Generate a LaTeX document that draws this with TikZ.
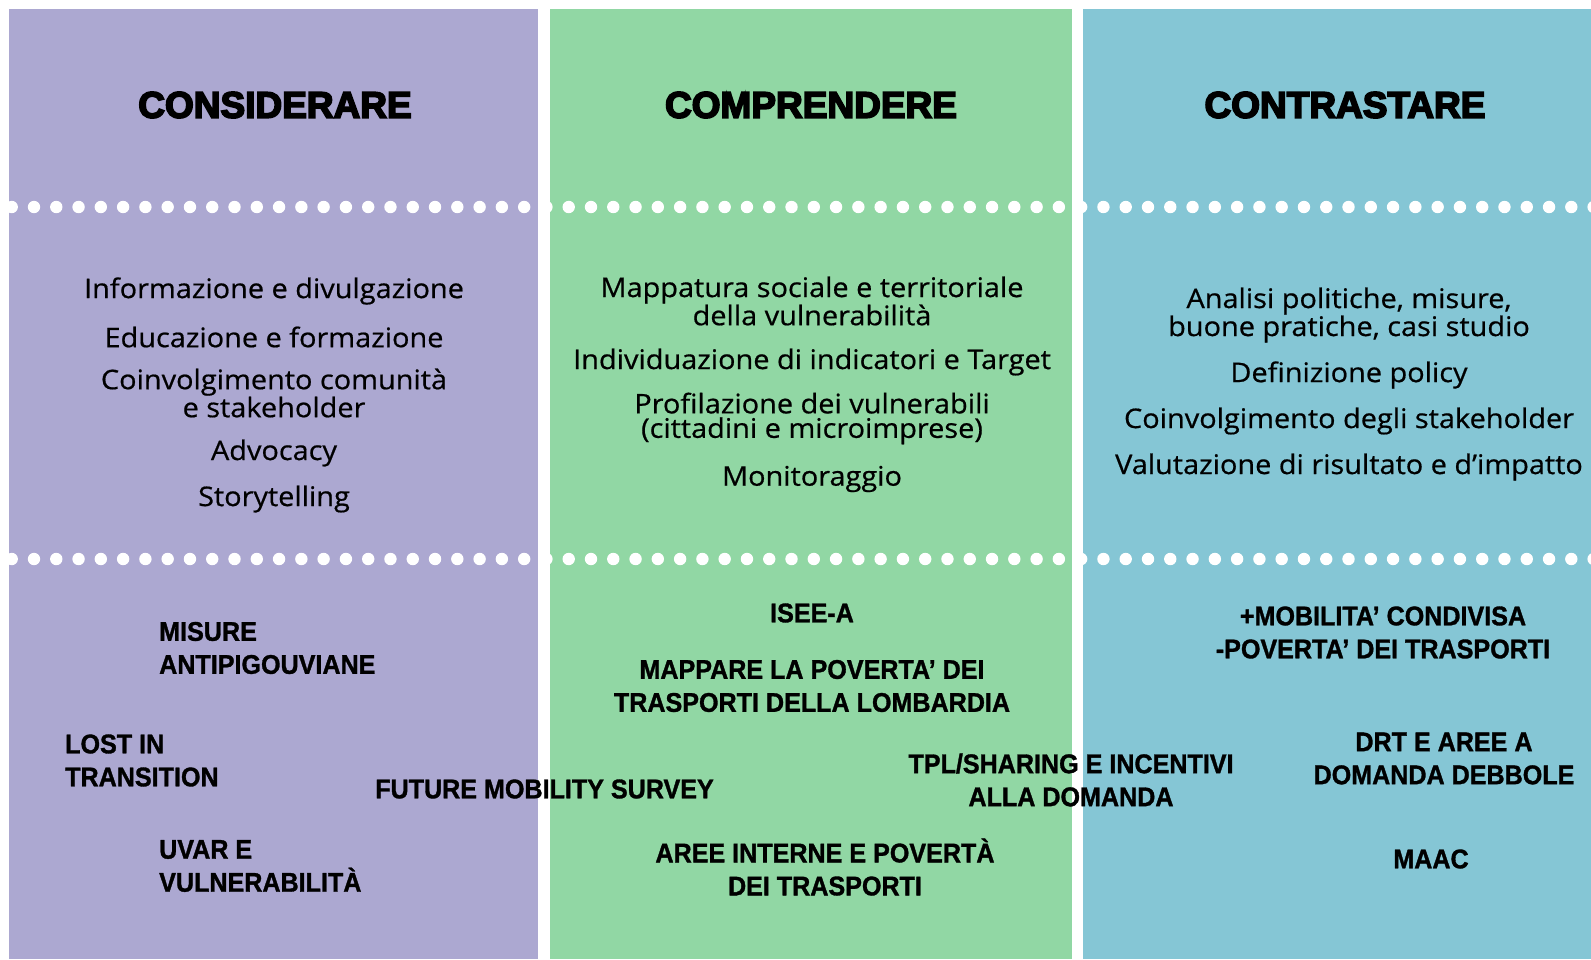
\documentclass[tikz,border=0pt]{standalone}
\usepackage{fontspec}
\setmainfont{Open Sans}[FakeStretch=1.07, FakeBold=0.6]
\newfontfamily\headfont{Liberation Sans}[BoldFeatures={FakeBold=4.5}]
\newfontfamily\tagfont{Liberation Sans}[BoldFeatures={FakeStretch=0.93, FakeBold=1.2}]
\definecolor{colpurple}{HTML}{ACA8D1}
\definecolor{colgreen}{HTML}{91D7A4}
\definecolor{colteal}{HTML}{85C6D5}
\begin{document}
\begin{tikzpicture}[x=1pt,y=-1pt]
	\tikzset{
		title/.style={font=\headfont\bfseries\fontsize{37}{40}\selectfont, inner sep=0pt},
		item/.style={font=\fontsize{27}{24.5}\selectfont, align=center, inner sep=0pt},
		tag/.style={font=\tagfont\bfseries\fontsize{27}{33}\selectfont, inner sep=0pt},
	}
	\useasboundingbox (0,0) rectangle (1591,959);
	\fill[white] (0,0) rectangle (1591,959);

	% The three columns, each with its two rows of dots.
	\foreach \c/\xa/\xb in {colpurple/9/538, colgreen/550/1072, colteal/1083/1591} {
		\fill[\c] (\xa,9) rectangle (\xb,959);
		\begin{scope}
			\clip (\xa,9) rectangle (\xb,959);
			\foreach \k in {-1,...,70} {
				\fill[white] ({34+22.28*\k},207) circle[radius=6.2pt];
				\fill[white] ({34+22.28*\k},559) circle[radius=6.2pt];
			}
		\end{scope}
	}

	% Headings.
	\path (275,105)  node[title] (cons) {CONSIDERARE};
	\path (811,105)  node[title] (comp) {COMPRENDERE};
	\path (1345,105) node[title] (cont) {CONTRASTARE};

	% Activities of each column.
	\path (274,291)   node[item] (info) {Informazione e divulgazione};
	\path (274,337)   node[item] (educ) {Educazione e formazione};
	\path (274,393)   node[item] (coinc) {Coinvolgimento comunità\\e stakeholder};
	\path (274,453)   node[item] (advo) {Advocacy};
	\path (274,499)   node[item] (stor) {Storytelling};

	\path (812,301)   node[item] (mapt) {Mappatura sociale e territoriale\\della vulnerabilità};
	\path (812,362)   node[item] (indi) {Individuazione di indicatori e Target};
	\path (812,418.5) node[item] (prof) {Profilazione dei vulnerabili\\(cittadini e microimprese)};
	\path (812,479)   node[item] (moni) {Monitoraggio};

	\path (1349,315)  node[item] (anal) {Analisi politiche, misure,\\buone pratiche, casi studio};
	\path (1349,375)  node[item] (defi) {Definizione policy};
	\path (1349,421)  node[item] (coins) {Coinvolgimento degli stakeholder};
	\path (1349,467)  node[item] (valu) {Valutazione di risultato e d’impatto};

	% Projects.
	\path (159,648)    node[tag, anchor=west, align=left] (misu) {MISURE\\ANTIPIGOUVIANE};
	\path (65,760.5)   node[tag, anchor=west, align=left] (lost) {LOST IN\\TRANSITION};
	\path (544.5,789)  node[tag] (futu) {FUTURE MOBILITY SURVEY};
	\path (159,866)    node[tag, anchor=west, align=left] (uvar) {UVAR E\\VULNERABILITÀ};
	\path (812,613)    node[tag] (isee) {ISEE-A};
	\path (812,686)    node[tag, align=center] (mapp) {MAPPARE LA POVERTA’ DEI\\TRASPORTI DELLA LOMBARDIA};
	\path (1071,780)   node[tag, align=center] (tpls) {TPL/SHARING E INCENTIVI\\ALLA DOMANDA};
	\path (825,867)    node[tag, align=center] (aree) {AREE INTERNE E POVERTÀ\\DEI TRASPORTI};
	\path (1383,632.5) node[tag, align=center] (mobi) {+MOBILITA’ CONDIVISA\\-POVERTA’ DEI TRASPORTI};
	\path (1444,758.5) node[tag, align=center] (drta) {DRT E AREE A\\DOMANDA DEBBOLE};
	\path (1431,859)   node[tag] (maac) {MAAC};
\end{tikzpicture}
\end{document}
